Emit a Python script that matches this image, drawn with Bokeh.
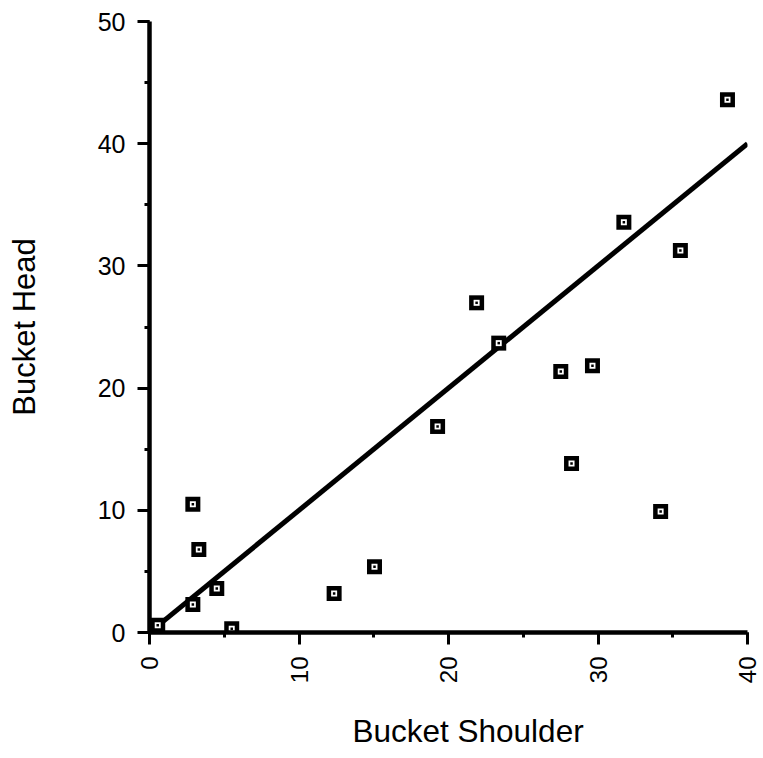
import numpy as np
from bokeh.plotting import figure
from bokeh.models import Range1d, SingleIntervalTicker, Title
from bokeh.embed import file_html
from bokeh.resources import INLINE

# Data
shoulder = [0.55, 2.9, 3.3, 4.5, 2.9, 5.5, 12.35, 15.05, 19.27, 21.88, 23.36,
            27.51, 29.63, 28.23, 31.73, 35.51, 34.19, 38.66]
head = [0.6, 10.5, 6.8, 3.6, 2.3, 0.3, 3.19, 5.38, 16.86, 26.98, 23.68,
        21.36, 21.82, 13.83, 33.58, 31.26, 9.90, 43.6]
fit_x = [0, 40]
fit_y = [0, 40]

FONT = "Liberation Sans"

p = figure(frame_width=598, frame_height=611,
           x_range=Range1d(0, 40), y_range=Range1d(0, 50),
           output_backend="svg", toolbar_location=None,
           min_border_left=149, min_border_top=21, min_border_right=16,
           min_border_bottom=118)
p.outline_line_color = None
p.grid.visible = False
p.background_fill_color = "white"
p.border_fill_color = "white"

p.xaxis.ticker = SingleIntervalTicker(interval=10, num_minor_ticks=2)
p.yaxis.ticker = SingleIntervalTicker(interval=10, num_minor_ticks=2)

for ax in (p.xaxis, p.yaxis):
    ax.axis_line_width = 4.5
    ax.axis_line_color = "black"
    ax.major_tick_line_width = 3
    ax.major_tick_line_color = "black"
    ax.minor_tick_line_width = 3
    ax.minor_tick_line_color = "black"
    ax.major_tick_in = 0
    ax.major_tick_out = 12
    ax.minor_tick_in = 0
    ax.minor_tick_out = 5
    ax.major_label_text_font = FONT
    ax.major_label_text_color = "black"
    ax.major_label_text_font_size = "25px"
    ax.major_label_standoff = 12

p.xaxis.major_label_orientation = np.pi / 2
p.xaxis.major_label_text_font_size = "24px"

p.yaxis.axis_label = "Bucket Head"
p.yaxis.axis_label_text_font = FONT
p.yaxis.axis_label_text_font_size = "31px"
p.yaxis.axis_label_text_font_style = "normal"
p.yaxis.axis_label_text_color = "black"
p.yaxis.axis_label_standoff = 53

xt = Title(text="Bucket Shoulder", align="left", offset=203,
           text_font=FONT, text_font_size="31.5px", text_font_style="normal",
           text_color="black", standoff=48)
p.add_layout(xt, "below")

p.line(fit_x, fit_y, line_width=5, line_color="black")
p.scatter(shoulder, head, marker="square", size=15, fill_color="black", line_color=None)
p.scatter(shoulder, head, marker="square", size=6, fill_color="white", line_color=None)
p.scatter(shoulder, head, marker="square", size=2.5, fill_color="black", line_color=None)

open("out.html", "w").write(file_html(p, INLINE))
